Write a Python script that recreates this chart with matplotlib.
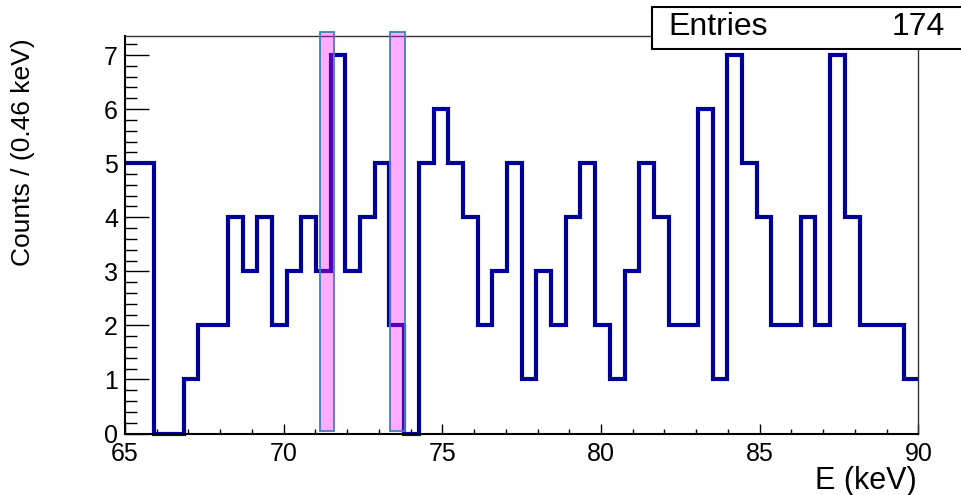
import matplotlib.pyplot as plt
import numpy as np
from matplotlib.patches import Rectangle
from matplotlib.ticker import MultipleLocator

plt.rcParams['font.family'] = ['Liberation Sans', 'DejaVu Sans']

# histogram, 54 bins between 65 and 90 keV
e_lo = 65.0
e_hi = 90.0
counts = [5, 5, 0, 0, 1, 2, 2, 4, 3, 4,
          2, 3, 4, 3, 7, 3, 4, 5, 2, 0,
          5, 6, 5, 4, 2, 3, 5, 1, 3, 2,
          4, 5, 2, 1, 3, 5, 4, 2, 2, 6,
          1, 7, 5, 4, 2, 2, 4, 2, 7, 4,
          2, 2, 2, 1]
entries = 174
# highlighted windows (keV) and their vertical extent
bands = [(71.14, 71.60), (73.35, 73.81)]
band_y = (0.05, 7.42)

edges = np.linspace(e_lo, e_hi, len(counts) + 1)

fig = plt.figure(figsize=(9.61, 4.95), dpi=100)
ax = fig.add_axes([0.1301, 0.1242, 0.8255, 0.8028])

ax.stairs(counts, edges, baseline=None, color='#000099', lw=3, clip_on=False, zorder=2)

for x0, x1 in bands:
    ax.add_patch(Rectangle((x0, band_y[0]), x1 - x0, band_y[1] - band_y[0],
                           fc=(1, 0, 1, 0.33), ec='#3f7fbf', lw=1.3,
                           clip_on=False, zorder=3))

ax.set_xlim(e_lo, e_hi)
ax.set_ylim(0, 7.35)

ax.xaxis.set_major_locator(MultipleLocator(5))
ax.xaxis.set_minor_locator(MultipleLocator(1))
ax.yaxis.set_major_locator(MultipleLocator(1))
ax.yaxis.set_minor_locator(MultipleLocator(0.2))

ax.tick_params(which='both', direction='in', labelsize=18, color='black')
ax.tick_params(axis='y', which='major', length=17, width=1, pad=5)
ax.tick_params(axis='y', which='minor', length=8.5, width=1)
ax.tick_params(axis='x', which='major', length=7.5, width=1, pad=6)
ax.tick_params(axis='x', which='minor', length=3.8, width=1)

for s in ['left', 'bottom']:
    ax.spines[s].set_linewidth(1.5)
    ax.spines[s].set_color('black')
for s in ['top', 'right']:
    ax.spines[s].set_linewidth(1.0)
    ax.spines[s].set_color('#333333')

# stats box
fig.patches.append(Rectangle((0.678, 0.902), 0.34, 0.083, transform=fig.transFigure,
                             fc='white', ec='black', lw=1.5, zorder=5))
fig.text(0.695, 0.946, 'Entries', fontsize=23, va='center', ha='left', zorder=6)
fig.text(0.983, 0.946, str(entries), fontsize=23, va='center', ha='right', zorder=6)

fig.text(0.024, 0.923, 'Counts / (0.46 keV)', fontsize=19, rotation=90,
         ha='center', va='top')
fig.text(0.954, 0.012, 'E (keV)', fontsize=22, ha='right', va='baseline')

fig.savefig('out.png', dpi=100)
